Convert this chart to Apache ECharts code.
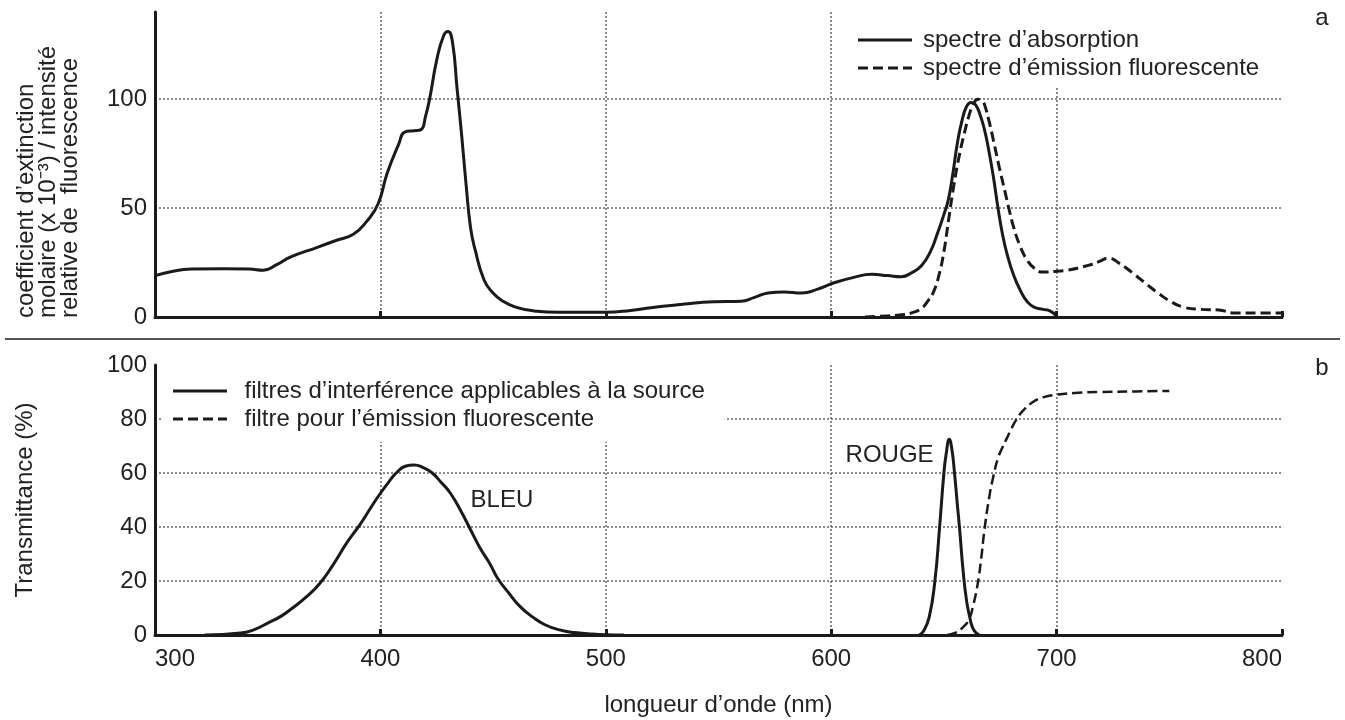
<!DOCTYPE html>
<html>
<head>
<meta charset="utf-8">
<script src="https://cdn.jsdelivr.net/npm/echarts@6/dist/echarts.min.js"></script>
<style>
html,body{margin:0;padding:0;background:#fff;}
#c{width:1345px;height:720px;}
</style>
</head>
<body>
<div id="c"></div>
<script>
// ---- Panel a : absorption / emission spectra ----
const absName = 'spectre d’absorption';
const absWl  = [300,308,316,330,342,348,354,360,372,380,388,394,399,403,408,411,415,418,420,422,425,428,430,432,434,436,438,440,442,446,450,454,460,468,480,500,511,520,535,548,560,566,572,579,587,594,601,610,618,625,631,636,640,644,647,650,652,654,656,658,660,662,664,666,668,670,672,674,676,678,681,684,687,690,694,697,700];
const absVal = [19,21,22,22.2,22,21.5,24,27.5,32,35,38,44,52,66,79,85,85.5,86,92,101,118,129,131,126,105,84,61,41,31,17,11,7.5,4.5,2.8,2.2,2.2,3,4.2,6,7,7.2,9,11,11.5,11,12.8,15.6,18.2,19.6,19,18.5,20.5,23.5,30,38,47,54,66,80,90,96.5,98.5,97.5,93,86,76,64,50,38,29,19,12,7,4.5,3.5,2.8,0.5];

const emName = 'spectre d’émission fluorescente';
const emWl  = [615,625,631,636,640,643,645.6,648,650,652,654.5,657,659,661,663,665,667,668,670,672,674.5,677,679,681,684,687,690,694,700,705,714,719,723,728,734,740,745,750,756,764,772,779,790,800];
const emVal = [0,0.5,1,2,4,7.5,12,20,30,44,61,75,84,92,97.5,100,99,97.5,90,81,69,58,49,41,32,26,22.5,20.6,21,21.5,23.7,25.5,27,24.5,20,15,11,7.5,4.6,3.5,3.2,1.8,1.8,1.8];

// ---- Panel b : filter transmittances ----
const srcName = 'filtres d’interférence applicables à la source';
const srcWl  = [322,338,344,350,356,361,367,373,379,385,391,396,400,404,407,411,415,419,423,427,431,436,440,444,448.5,452,457,462,467.5,473,479.5,486,493,500,508,575,639,641,643.5,646,648,650,651,652.4,653.5,654.6,656,657,658.5,660,661.5,662.6,664,665.7];
const srcVal = [0,0.7,2,4.4,7,10,14,19,26,34,41,47.5,52.5,57,60,62.5,63,62,60,56.5,52.6,45.5,39,32.5,26.5,21,15.5,10.5,6.7,3.8,1.9,0.9,0.4,0.1,0,null,0,1.5,6.7,20,39,60,67,72.5,69,61,48,39,24,13,6.5,3,1,0];

const emfName = 'filtre pour l’émission fluorescente';
const emfWl  = [651.5,655.5,658,661,663,665,666.5,668,670,672,674,676,678,680,682,685,689,694,700,708,719,735,750];
const emfVal = [0,1,2.5,5.6,11,19,28,39,50.5,59,65.5,69.5,73,76.5,79.6,83,86,88,89,89.6,90,90.2,90.4];

// axes
const xMin = 300, xMax = 800, xStep = 100;
const yTopMax = 140, yTopStep = 50;
const yBotMax = 100, yBotStep = 20;

// annotations (text, wavelength, value)
const peakLabels = [['BLEU', 453.9, 49.7], ['ROUGE', 625.9, 66.7]];

const zip = (a, b) => a.map((v, i) => [v, b[i]]);

const FONT = '"Liberation Sans", Arial, Helvetica, sans-serif';
const INK = '#1a1a1a';
const gridStyle = { type: [2, 2], color: '#666', width: 1.5 };

const chart = echarts.init(document.getElementById('c'), null, { renderer: 'canvas' });

function xAxisCfg(gridIndex, showLabels) {
  return {
    type: 'value', gridIndex, min: xMin, max: xMax, interval: xStep,
    axisLine: { show: true, onZero: false, lineStyle: { color: INK, width: 3 } },
    axisTick: { show: true, inside: true, length: 6, lineStyle: { color: INK, width: 3 } },
    axisLabel: { show: showLabels, fontSize: 24, color: '#222', margin: 12, fontFamily: FONT },
    splitLine: { show: true, showMinLine: false, showMaxLine: false, lineStyle: gridStyle }
  };
}
function yAxisCfg(gridIndex, max, step) {
  return {
    type: 'value', gridIndex, min: 0, max, interval: step,
    axisLine: { show: true, lineStyle: { color: INK, width: 3 } },
    axisTick: { show: false },
    axisLabel: { fontSize: 24, color: '#222', margin: 8, showMaxLabel: max % step === 0, fontFamily: FONT },
    splitLine: { show: true, showMinLine: false, showMaxLine: false, lineStyle: gridStyle }
  };
}

const xb = xAxisCfg(1, true);
xb.axisLabel.alignMinLabel = 'left';
xb.axisLabel.alignMaxLabel = 'right';
xb.name = 'longueur d’onde (nm)';
xb.nameLocation = 'middle';
xb.nameGap = 58;
xb.nameTextStyle = { fontSize: 24, color: '#222', fontFamily: FONT };

const yb = yAxisCfg(1, yBotMax, yBotStep);
yb.name = 'Transmittance (%)';
yb.nameLocation = 'middle';
yb.nameGap = 118;
yb.nameTextStyle = { fontSize: 24, color: '#222', fontFamily: FONT };

function lineSeries(name, data, xi, dashed, width) {
  return {
    name, type: 'line', xAxisIndex: xi, yAxisIndex: xi, data,
    symbol: 'none', showSymbol: false, smooth: 0.5, connectNulls: false,
    lineStyle: { color: INK, width, type: dashed ? [10, 5] : 'solid' },
    itemStyle: { color: INK },
    emphasis: { disabled: true }, animation: false
  };
}

// legend icons: a plain stroke and a stroke of four dashes
const solidIcon  = 'path://M0,0h54v3h-54z';
const dashedIcon = 'path://M0,0h10v3h-10z M15,0h10v3h-10z M30,0h10v3h-10z M45,0h9v3h-9z';

function legendData(solidName, dashedName) {
  return [{ name: solidName, icon: solidIcon }, { name: dashedName, icon: dashedIcon }];
}

chart.setOption({
  animation: false,
  textStyle: { fontFamily: FONT },
  grid: [
    { left: 155, right: 63, top: 12, bottom: 403 },
    { left: 155, right: 63, top: 365, bottom: 85 }
  ],
  xAxis: [xAxisCfg(0, false), xb],
  yAxis: [yAxisCfg(0, yTopMax, yTopStep), yb],
  legend: [
    {
      data: legendData(absName, emName), orient: 'vertical', left: 849, top: 12,
      padding: [16, 12, 8, 9], itemGap: 4, itemWidth: 54, itemHeight: 3,
      backgroundColor: '#fff', selectedMode: false,
      itemStyle: { color: INK, borderWidth: 0 },
      textStyle: { fontSize: 24, lineHeight: 24, color: '#222', padding: [0, 0, 0, 6], fontFamily: FONT }
    },
    {
      data: legendData(srcName, emfName), orient: 'vertical', left: 163, top: 365,
      padding: [14, 20, 11, 10], itemGap: 4, itemWidth: 55, itemHeight: 3,
      backgroundColor: '#fff', selectedMode: false,
      itemStyle: { color: INK, borderWidth: 0 },
      textStyle: { fontSize: 24, lineHeight: 24, color: '#222', padding: [0, 0, 0, 12], fontFamily: FONT }
    }
  ],
  series: [
    lineSeries(absName, zip(absWl, absVal), 0, false, 3),
    lineSeries(emName, zip(emWl, emVal), 0, true, 3),
    lineSeries(srcName, zip(srcWl, srcVal), 1, false, 3),
    lineSeries(emfName, zip(emfWl, emfVal), 1, true, 2.5)
  ]
});

// annotations placed through the chart's own scales
const graphics = [
  { type: 'line', shape: { x1: 5, y1: 339, x2: 1340, y2: 339 }, style: { stroke: INK, lineWidth: 1.5 }, z: 10 },
  { type: 'text', x: 1322, y: 18, style: { text: 'a', fontSize: 24, fontFamily: FONT, fill: '#222', align: 'center', verticalAlign: 'middle' }, z: 10 },
  { type: 'text', x: 1322, y: 368, style: { text: 'b', fontSize: 24, fontFamily: FONT, fill: '#222', align: 'center', verticalAlign: 'middle' }, z: 10 },
  { type: 'text', x: 15, y: 318, rotation: Math.PI / 2,
    style: { text: 'coefficient d’extinction\nmolaire (x 10⁻³) / intensité\nrelative de  fluorescence', fontSize: 24, lineHeight: 22, fontFamily: FONT, fill: '#222', align: 'left', verticalAlign: 'top' }, z: 10 }
];
peakLabels.forEach(([t, wl, v]) => {
  const p = chart.convertToPixel({ xAxisIndex: 1, yAxisIndex: 1 }, [wl, v]);
  graphics.push({ type: 'text', x: p[0], y: p[1], style: { text: t, fontSize: 24, fontFamily: FONT, fill: '#222', align: 'center', verticalAlign: 'middle' }, z: 10 });
});
chart.setOption({ graphic: graphics });
</script>
</body>
</html>
